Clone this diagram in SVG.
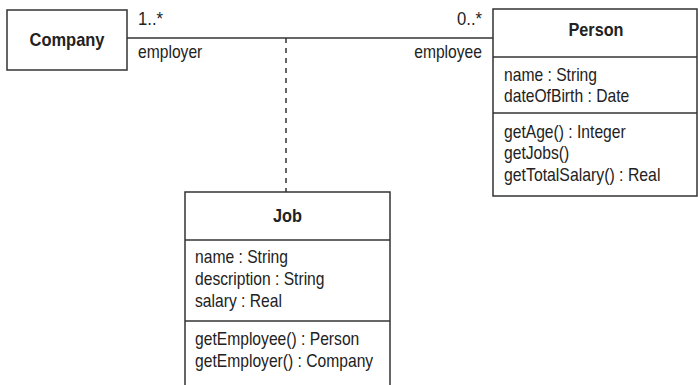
<svg xmlns="http://www.w3.org/2000/svg" width="698" height="385" viewBox="0 0 698 385">
<style>
.box{fill:#fff;stroke:#333;stroke-width:1.5}
.ln{fill:none;stroke:#333;stroke-width:1.5}
.dash{fill:none;stroke:#333;stroke-width:1.5;stroke-dasharray:5 5}
text{font-family:"Liberation Sans",Arial,sans-serif;font-size:17.8px;fill:#222}
.t{font-weight:bold;text-anchor:middle}
.e{text-anchor:end}
</style>
<rect width="698" height="385" fill="#fff"/>
<g id="connectors">
<line class="ln" x1="127" y1="38" x2="493" y2="38"/>
<line class="dash" x1="286" y1="38" x2="286" y2="192"/>
<text x="138" y="25" textLength="25" lengthAdjust="spacingAndGlyphs">1..*</text>
<text x="138" y="58" textLength="64.3" lengthAdjust="spacingAndGlyphs">employer</text>
<text class="e" x="482" y="25" textLength="25" lengthAdjust="spacingAndGlyphs">0..*</text>
<text class="e" x="482" y="58" textLength="67.8" lengthAdjust="spacingAndGlyphs">employee</text>
</g>
<g id="company">
<rect class="box" x="7" y="10" width="120" height="60"/>
<text class="t" x="67" y="46" textLength="75" lengthAdjust="spacingAndGlyphs">Company</text>
</g>
<g id="person">
<rect class="box" x="493" y="9" width="204" height="187"/>
<line class="ln" x1="493" y1="57" x2="697" y2="57"/>
<line class="ln" x1="493" y1="113" x2="697" y2="113"/>
<text class="t" x="596" y="36" textLength="55" lengthAdjust="spacingAndGlyphs">Person</text>
<text x="504" y="81" textLength="93" lengthAdjust="spacingAndGlyphs">name : String</text>
<text x="504" y="102" textLength="125.2" lengthAdjust="spacingAndGlyphs">dateOfBirth : Date</text>
<text x="504" y="138" textLength="121.7" lengthAdjust="spacingAndGlyphs">getAge() : Integer</text>
<text x="504" y="159" textLength="65.2" lengthAdjust="spacingAndGlyphs">getJobs()</text>
<text x="504" y="181" textLength="156.4" lengthAdjust="spacingAndGlyphs">getTotalSalary() : Real</text>
</g>
<g id="job">
<rect class="box" x="185" y="192" width="205" height="200"/>
<line class="ln" x1="185" y1="240" x2="390" y2="240"/>
<line class="ln" x1="185" y1="321" x2="390" y2="321"/>
<text class="t" x="287.5" y="222" textLength="29" lengthAdjust="spacingAndGlyphs">Job</text>
<text x="195" y="263" textLength="93" lengthAdjust="spacingAndGlyphs">name : String</text>
<text x="195" y="285" textLength="129.5" lengthAdjust="spacingAndGlyphs">description : String</text>
<text x="195" y="307" textLength="86.9" lengthAdjust="spacingAndGlyphs">salary : Real</text>
<text x="195" y="345" textLength="164.3" lengthAdjust="spacingAndGlyphs">getEmployee() : Person</text>
<text x="195" y="367" textLength="178.2" lengthAdjust="spacingAndGlyphs">getEmployer() : Company</text>
</g>
</svg>
